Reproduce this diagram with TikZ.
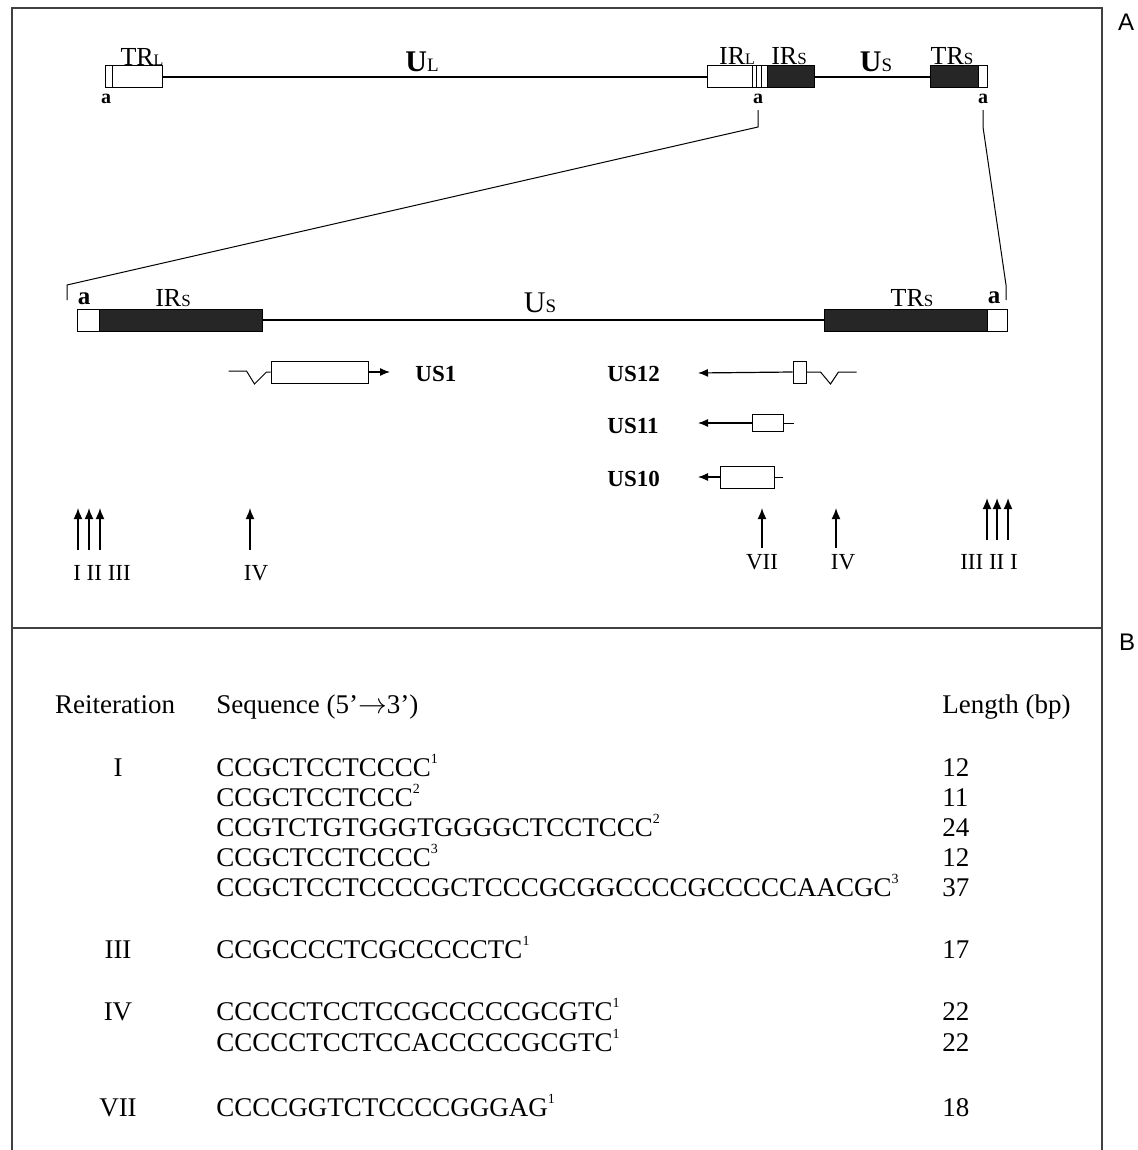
\documentclass[tikz,border=0pt]{standalone}
\usepackage{fontspec}
\setmainfont{Liberation Serif}
\newfontfamily\panelfont{Liberation Sans}
\usetikzlibrary{arrows.meta, positioning}
\newcommand{\refmark}[1]{\raisebox{1.0ex}{\fontsize{7}{8}\selectfont #1}}

\begin{document}
\begin{tikzpicture}[x=0.5pt, y=-0.5pt,
  panelframe/.style={line width=0.6pt, black!75},
  genome/.style={line width=1.1pt},
  thinline/.style={line width=0.5pt},
  openbox/.style={draw, fill=white, line width=0.5pt, inner sep=0pt, minimum height=11pt},
  darkbox/.style={draw, fill=black!85, line width=0.5pt, inner sep=0pt, minimum height=11pt},
  genebox/.style={draw, fill=white, line width=0.5pt, inner sep=0pt},
  seglbl/.style={font=\fontsize{13}{15}\selectfont, inner sep=0pt},
  junc/.style={font=\bfseries\fontsize{10}{12}\selectfont, inner sep=0pt},
  genelbl/.style={font=\bfseries\fontsize{11.5}{14}\selectfont, inner sep=0pt, anchor=west},
  roman/.style={font=\fontsize{11.5}{13}\selectfont, inner sep=0pt},
  cell/.style={font=\fontsize{13.5}{16}\selectfont, inner sep=0pt, anchor=base west},
  siteArr/.style={-{Latex[length=5.5pt, width=4.5pt]}, line width=0.8pt},
  txArr/.style={-{Latex[length=5pt, width=4pt]}, line width=0.6pt}
]
  \useasboundingbox (0,0) rectangle (1137,1150);

  \draw[panelframe] (12,1150) -- (12,8) -- (1102,8) -- (1102,1150);
  \draw[panelframe] (12,628) -- (1102,628);
  \node[font=\panelfont\fontsize{12}{14}\selectfont, inner sep=0pt] (panA) at (1126,22) {A};
  \node[font=\panelfont\fontsize{12}{14}\selectfont, inner sep=0pt] (panB) at (1127,642) {B};

  \node[openbox, minimum width=28.5pt] (trl) at (133.5,77) {};
  \node[openbox, minimum width=22.5pt] (irl) at (729.5,77) {};
  \node[openbox, minimum width=7.5pt] (ajn) at (759.5,77) {};
  \node[darkbox, minimum width=23.5pt] (irs) at (790.5,77) {};
  \node[darkbox, minimum width=24pt] (trs) at (954,77) {};
  \node[openbox, minimum width=4.5pt] (atr) at (982.5,77) {};
  \draw[thinline] ([xshift=4pt]trl.north west) -- ([xshift=4pt]trl.south west);
  \foreach \dx in {2.5pt,5pt}
    \draw[thinline] ([xshift=\dx]ajn.north west) -- ([xshift=\dx]ajn.south west);
  \draw[genome] (trl) -- (irl);
  \draw[genome] (irs) -- (trs);

  \node[seglbl] (trllbl) at (142,57) {TR{\fontsize{8}{9}\selectfont L}};
  \node[seglbl, font=\bfseries\fontsize{15}{17}\selectfont] (ullbl) at (422,62) {U{\mdseries\fontsize{9.5}{10}\selectfont L}};
  \node[seglbl] (irllbl) at (737,56) {IR{\fontsize{8}{9}\selectfont L}};
  \node[seglbl] (irslbl) at (789,56) {IR{\fontsize{8.5}{9}\selectfont S}};
  \node[seglbl, font=\bfseries\fontsize{15}{17}\selectfont] (uslbl) at (876,62) {U{\mdseries\fontsize{9.5}{10}\selectfont S}};
  \node[seglbl] (trslbl) at (952,56) {TR{\fontsize{8.5}{9}\selectfont S}};
  \node[junc] (a1) at (106,99) {a};
  \node[junc] (a2) at (758,99) {a};
  \node[junc] (a3) at (983,99) {a};

  \coordinate (ltop) at (758,127);
  \coordinate (lknee) at (67,285);
  \coordinate (lfoot) at (67,300);
  \coordinate (rtop) at (983,127);
  \coordinate (rknee) at (1006,285);
  \coordinate (rfoot) at (1006,300);
  \draw[thinline] ([yshift=-3pt]a2.south) -- (ltop) -- (lknee) -- (lfoot);
  \draw[thinline] ([yshift=-3pt]a3.south) -- (rtop) -- (rknee) -- (rfoot);

  \node[openbox, minimum width=11pt] (ax1) at (88,320) {};
  \node[darkbox, minimum width=81.5pt] (irsx) at (180.5,320) {};
  \node[darkbox, minimum width=81.5pt] (trsx) at (905.5,320) {};
  \node[openbox, minimum width=10pt] (ax2) at (997,320) {};
  \draw[genome] (irsx) -- (trsx);
  \node[junc, font=\bfseries\fontsize{12.5}{14}\selectfont] (ax1lbl) at (84,299) {a};
  \node[seglbl] (irsxlbl) at (173,298) {IR{\fontsize{8.5}{10}\selectfont S}};
  \node[seglbl, font=\fontsize{15}{17}\selectfont] (usxlbl) at (540,303) {U{\fontsize{9.5}{10}\selectfont S}};
  \node[seglbl] (trsxlbl) at (912,298) {TR{\fontsize{8.5}{10}\selectfont S}};
  \node[junc, font=\bfseries\fontsize{12.5}{14}\selectfont] (ax2lbl) at (994,298) {a};

  \node[genebox, minimum width=48.5pt, minimum height=11pt] (us1) at (319.5,372) {};
  \coordinate (us1tip) at (390,372);
  \draw[thinline] (us1.west) -- ++(-4,0) -- ++(-12,12) -- ++(-8,-13) -- ++(-18,0);
  \draw[txArr] (us1.east) -- (us1tip);
  \node[genelbl] (us1lbl) at (415,374) {US1};

  \node[genebox, minimum width=6.5pt, minimum height=11pt] (us12) at (799.5,372) {};
  \coordinate (us12tip) at (698,373);
  \draw[txArr] (us12.west) -- (us12tip);
  \draw[thinline] (us12.east) -- ++(14,0) -- ++(10,12) -- ++(8,-12) -- ++(18,0);
  \node[genelbl] (us12lbl) at (607,374) {US12};

  \node[genebox, minimum width=15.5pt, minimum height=8.5pt] (us11) at (767.5,423) {};
  \coordinate (us11tip) at (698,423);
  \draw[txArr] (us11.west) -- (us11tip);
  \draw[thinline] (us11.east) -- ++(10,0);
  \node[genelbl] (us11lbl) at (607,426) {US11};

  \node[genebox, minimum width=27pt, minimum height=11pt] (us10) at (747,477) {};
  \coordinate (us10tip) at (698,477);
  \draw[txArr] (us10.west) -- (us10tip);
  \draw[thinline] (us10.east) -- ++(8,0);
  \node[genelbl] (us10lbl) at (607,479) {US10};

  \foreach \x/\t/\b in {78/508/550, 89/508/550, 100/508/550, 250/508/550, 762/508/548, 836/508/548, 987/498/540, 997/498/540, 1008/498/540}
    \draw[siteArr] (\x,\b) -- (\x,\t);
  \node[roman] (rL) at (102,573) {I II III};
  \node[roman] (rIVa) at (256,573) {IV};
  \node[roman] (rVII) at (762,562) {VII};
  \node[roman] (rIVb) at (843,562) {IV};
  \node[roman] (rR) at (989,562) {III II I};

  \node[cell, anchor=base] (hReit) at (115,713) {Reiteration};
  \node[cell] (hSeq) at (216,713) {Sequence (5'$\rightarrow$3')};
  \node[cell] (hLen) at (942,713) {Length (bp)};

  \foreach \r/\y in {I/776, III/958, IV/1020, VII/1116}
    \node[cell, anchor=base] (reit\r) at (118,\y) {\r};

  \foreach \y/\s/\n/\l [count=\i] in {
      776/CCGCTCCTCCCC/1/12,
      806/CCGCTCCTCCC/2/11,
      836/CCGTCTGTGGGTGGGGCTCCTCCC/2/24,
      866/CCGCTCCTCCCC/3/12,
      896/CCGCTCCTCCCCGCTCCCGCGGCCCCGCCCCCAACGC/3/37,
      958/CCGCCCCTCGCCCCCTC/1/17,
      1020/CCCCCTCCTCCGCCCCCGCGTC/1/22,
      1051/CCCCCTCCTCCACCCCCGCGTC/1/22,
      1116/CCCCGGTCTCCCCGGGAG/1/18}
  {
    \node[cell] (seq\i) at (216,\y) {\s\refmark{\n}};
    \node[cell] (len\i) at (942,\y) {\l};
  }
\end{tikzpicture}
\end{document}
